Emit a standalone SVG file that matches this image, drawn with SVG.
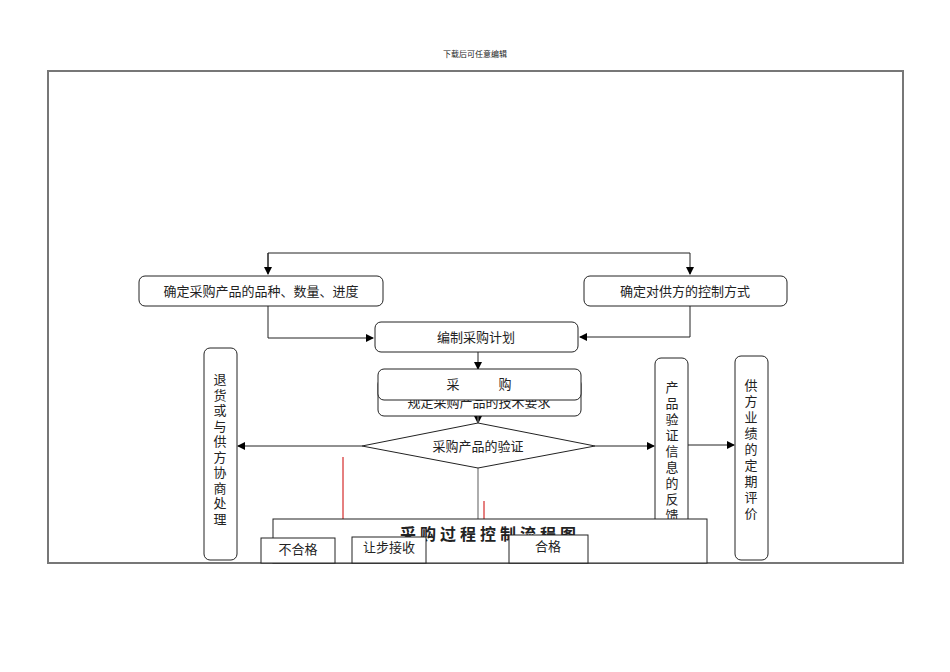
<svg xmlns="http://www.w3.org/2000/svg" width="950" height="672" viewBox="0 0 950 672">
<defs>
<marker id="a" markerWidth="8" markerHeight="8" refX="7" refY="4" orient="auto" markerUnits="userSpaceOnUse"><path d="M0,0L8,4L0,8z" fill="#000"/></marker>
<style>
text{font-family:"Liberation Serif","Noto Sans CJK SC",serif;font-size:13px;fill:#222}
.b{fill:#fff;stroke:#222;stroke-width:1}
.l{fill:none;stroke:#222;stroke-width:1}
.v{text-anchor:middle}
</style>
</defs>
<rect width="950" height="672" fill="#fff"/>
<text x="475" y="57" text-anchor="middle" style="font-size:8px;font-family:'Noto Sans CJK SC',sans-serif">下载后可任意编辑</text>
<rect x="48" y="71" width="855" height="492" fill="none" stroke="#777" stroke-width="2"/>
<g id="connectors">
<path class="l" d="M268,272V253H690V274" marker-end="url(#a)"/>
<path class="l" d="M268,253V274" marker-end="url(#a)"/>
<path class="l" d="M268,306V338H373" marker-end="url(#a)"/>
<path class="l" d="M690,306V337H580" marker-end="url(#a)"/>
<path class="l" d="M478,352V369" marker-end="url(#a)"/>
<path class="l" d="M478,416V423" marker-end="url(#a)"/>
<path class="l" d="M362,446H238" marker-end="url(#a)"/>
<path class="l" d="M595,446H654" marker-end="url(#a)"/>
<path class="l" d="M688,445H734" marker-end="url(#a)"/>
<path d="M478,400V519" stroke="#777" stroke-width="1.2"/>
<path d="M343,457V519M484,501V519" stroke="#c00" stroke-width="1"/>
</g>
<g id="n1"><rect class="b" x="139" y="276" width="244" height="30" rx="6"/><text class="v" x="261" y="296">确定采购产品的品种、数量、进度</text></g>
<g id="n2"><rect class="b" x="584" y="276" width="203" height="30" rx="6"/><text class="v" x="685" y="296">确定对供方的控制方式</text></g>
<g id="n3"><rect class="b" x="375" y="322" width="203" height="30" rx="6"/><text class="v" x="476" y="342">编制采购计划</text></g>
<g id="n4"><rect class="b" x="378" y="378" width="203" height="38" rx="6"/><text class="v" x="479" y="407">规定采购产品的技术要求</text></g>
<g id="n5"><rect class="b" x="378" y="369" width="203" height="31" rx="6"/><text class="v" x="479" y="389">采　　　购</text></g>
<g id="n6"><path class="b" d="M362,446L478,423L595,446L478,468Z"/><text class="v" x="478" y="451">采购产品的验证</text></g>
<g id="n7"><rect class="b" x="204" y="348" width="33" height="212" rx="6"/>
<text class="v" x="220"><tspan x="220" y="384">退</tspan><tspan x="220" dy="15.5">货</tspan><tspan x="220" dy="15.5">或</tspan><tspan x="220" dy="15.5">与</tspan><tspan x="220" dy="15.5">供</tspan><tspan x="220" dy="15.5">方</tspan><tspan x="220" dy="15.5">协</tspan><tspan x="220" dy="15.5">商</tspan><tspan x="220" dy="15.5">处</tspan><tspan x="220" dy="15.5">理</tspan></text></g>
<g id="n8"><rect class="b" x="655" y="358" width="33" height="190" rx="6"/>
<text class="v"><tspan x="672" y="392">产</tspan><tspan x="672" dy="16">品</tspan><tspan x="672" dy="16">验</tspan><tspan x="672" dy="16">证</tspan><tspan x="672" dy="16">信</tspan><tspan x="672" dy="16">息</tspan><tspan x="672" dy="16">的</tspan><tspan x="672" dy="16">反</tspan><tspan x="672" dy="16">馈</tspan></text></g>
<g id="n9"><rect class="b" x="735" y="356" width="33" height="204" rx="6"/>
<text class="v"><tspan x="751" y="390">供</tspan><tspan x="751" dy="16">方</tspan><tspan x="751" dy="16">业</tspan><tspan x="751" dy="16">绩</tspan><tspan x="751" dy="16">的</tspan><tspan x="751" dy="16">定</tspan><tspan x="751" dy="16">期</tspan><tspan x="751" dy="16">评</tspan><tspan x="751" dy="16">价</tspan></text></g>
<g id="title"><rect class="b" x="273" y="519" width="434" height="44"/><text class="v" x="490" y="540" style="font-size:16px;font-weight:bold;letter-spacing:4px;font-family:'Noto Sans CJK SC',sans-serif">采购过程控制流程图</text></g>
<g id="n10"><rect class="b" x="261" y="538" width="74" height="25"/><text class="v" x="298" y="554">不合格</text></g>
<g id="n11"><rect class="b" x="352" y="537" width="74" height="26"/><text class="v" x="389" y="552">让步接收</text></g>
<g id="n12"><rect class="b" x="509" y="535" width="79" height="28"/><text class="v" x="548" y="551">合格</text></g>
</svg>
